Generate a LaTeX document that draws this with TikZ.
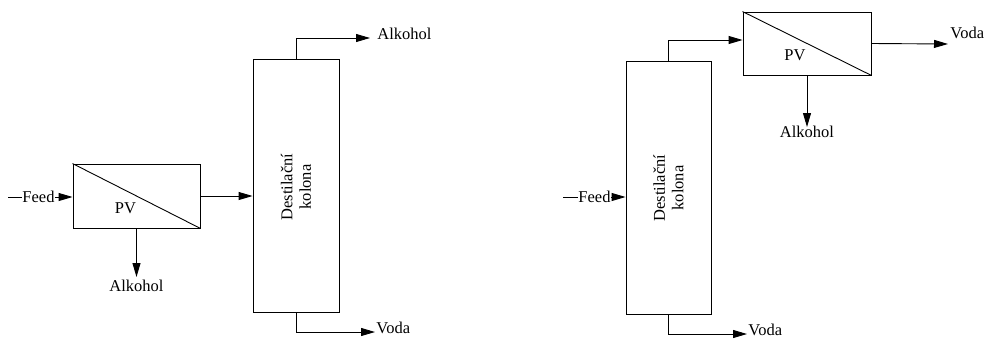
\documentclass[tikz,border=0pt]{standalone}
\usepackage{fontspec}
\setmainfont{Liberation Serif}
\usetikzlibrary{arrows.meta,calc}

\tikzset{
  unit/.style={draw, line width=0.9pt, inner sep=0pt, minimum width=#1},
  flow/.style={line width=0.9pt, -{Triangle[length=14pt,width=8pt]}},
  lbl/.style={inner sep=0pt, font=\rmfamily\fontsize{16.5}{18.5}\selectfont},
}

\begin{document}
\begin{tikzpicture}
  [x=1pt, y=-1pt, line width=0.9pt]
  \useasboundingbox (0,0) rectangle (988,338);

  % left: PV first, then the column
  \node[unit=127pt, minimum height=64pt] (pv1) at (136.5,196) {};
  \draw (pv1.north west) -- (pv1.south east);
  \node[lbl] (pv1t) at ($(pv1.center)+(-11,12)$) {PV};
  \node[unit=86pt, minimum height=253pt] (col1) at (296,185.5) {};
  \node[lbl, rotate=90, align=center] (col1t) at (296,187) {Destilační\\kolona};

  \coordinate (f1s) at (8,197);
  \node[lbl, anchor=base west] (f1) at (22,202) {Feed};
  \draw (f1s) -- (f1s -| f1.west);
  \draw[flow] (f1s -| f1.east) -- (f1s -| pv1.west);
  \draw[flow] (pv1.east) -- (pv1.east -| col1.west);

  \coordinate (a1e) at (136.5,277);
  \draw[flow] (pv1.south) -- (a1e);
  \node[lbl, anchor=north] (a1) at ($(a1e)+(0,3)$) {Alkohol};

  \coordinate (a2e) at (370,38);
  \draw[flow] (col1.north) |- (a2e);
  \node[lbl, anchor=base west] (a2) at (377,39) {Alkohol};

  \coordinate (v1e) at (375,332);
  \draw[flow] (col1.south) |- (v1e);
  \node[lbl, anchor=base west] (v1) at (376,333) {Voda};

  % right: column first, then PV
  \node[unit=85pt, minimum height=253pt] (col2) at (668.5,187.5) {};
  \node[lbl, rotate=90, align=center] (col2t) at (668.5,188) {Destilační\\kolona};
  \node[unit=128pt, minimum height=63pt] (pv2) at (807,43.5) {};
  \draw (pv2.north west) -- (pv2.south east);
  \node[lbl] (pv2t) at ($(pv2.center)+(-12,11.5)$) {PV};

  \coordinate (f2s) at (563,197);
  \node[lbl, anchor=base west] (f2) at (578,202) {Feed};
  \draw (f2s) -- (f2s -| f2.west);
  \draw[flow] (f2s -| f2.east) -- (f2s -| col2.west);

  \coordinate (p2in) at ($(pv2.west)+(0,-3.5)$);
  \draw[flow] (col2.north) |- (p2in);

  \coordinate (v2e) at (948,44);
  \draw[flow] (pv2.east) -- (v2e);
  \node[lbl, anchor=base west] (v2) at (950,38) {Voda};

  \coordinate (a3e) at (807,127);
  \draw[flow] (pv2.south) -- (a3e);
  \node[lbl, anchor=north] (a3) at ($(a3e)+(0,-1)$) {Alkohol};

  \coordinate (v3e) at (747,334);
  \draw[flow] (col2.south) |- (v3e);
  \node[lbl, anchor=base west] (v3) at (748,335) {Voda};
\end{tikzpicture}
\end{document}
